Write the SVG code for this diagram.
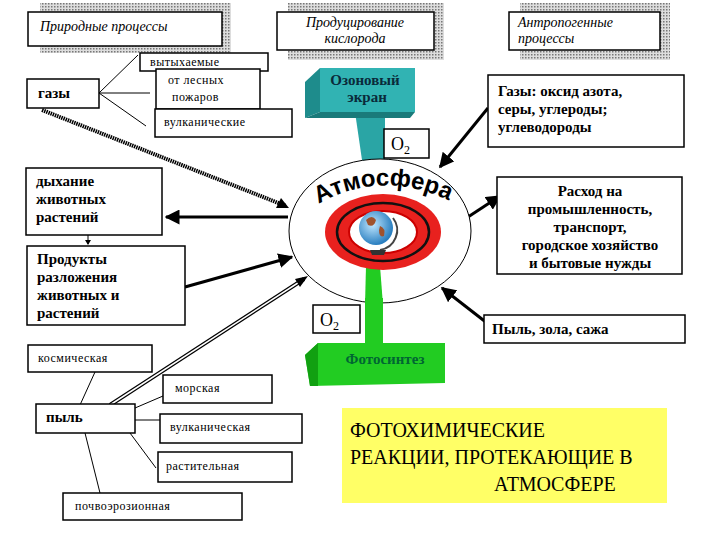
<svg xmlns="http://www.w3.org/2000/svg" width="720" height="540" viewBox="0 0 720 540">
<defs>
<pattern id="hatch" width="3" height="3" patternUnits="userSpaceOnUse"><rect width="3" height="3" fill="#ddd"/><rect width="1.5" height="1.5" fill="#777"/></pattern>
<marker id="ah" viewBox="0 0 10 10" refX="9" refY="5" markerWidth="5" markerHeight="5" orient="auto"><path d="M0,0L10,5L0,10z" fill="#000"/></marker>
<radialGradient id="glb" cx="0.4" cy="0.4" r="0.6"><stop offset="0" stop-color="#bfe6ff"/><stop offset="1" stop-color="#2a7fc0"/></radialGradient>
</defs>
<style>
text{font-family:"Liberation Serif","DejaVu Serif",serif}
.b{fill:#fff;stroke:#000;stroke-width:1.5}
.h{font-style:italic;font-size:14px}
.s{font-size:12px;letter-spacing:0.5px}
.m{font-weight:bold;font-size:15px}
.l{fill:none;stroke:#000;stroke-width:1}
.a{fill:none;stroke:#000;stroke-width:3;marker-end:url(#ah)}
</style>
<rect width="720" height="540" fill="#fff"/>
<g id="hdr1"><rect x="40" y="3" width="191" height="50" fill="url(#hatch)"/><rect class="b" x="28" y="12" width="194" height="34"/><text class="h" x="40" y="31">Природные процессы</text></g>
<g id="hdr2"><rect x="288" y="3" width="156" height="57" fill="url(#hatch)"/><rect class="b" x="277" y="12" width="157" height="38"/><text class="h" x="355" y="27" text-anchor="middle">Продуцирование</text><text class="h" x="355" y="43" text-anchor="middle">кислорода</text></g>
<g id="hdr3"><rect x="520" y="3" width="150" height="57" fill="url(#hatch)"/><rect class="b" x="509" y="12" width="151" height="38"/><text class="h" x="518" y="27">Антропогенные</text><text class="h" x="518" y="43">процессы</text></g>
<g id="connectors">
<line class="l" x1="99" y1="93" x2="138" y2="55"/><line class="l" x1="99" y1="93" x2="150" y2="93"/><line class="l" x1="99" y1="93" x2="146" y2="126"/>
<line class="l" x1="88" y1="235" x2="88" y2="244"/><path d="M85,240L91,240L88,245z"/>
<line x1="42" y1="110" x2="286" y2="206" stroke="#000" stroke-width="4" stroke-dasharray="1.5 0.8"/><path d="M289,208L276,208L281,198z"/>
<line class="a" x1="288" y1="217" x2="166" y2="217"/>
<line class="a" x1="185" y1="287" x2="292" y2="257"/>
<line x1="110" y1="405" x2="304" y2="279" stroke="#000" stroke-width="4"/><line x1="110" y1="405" x2="304" y2="279" stroke="#fff" stroke-width="1.5"/><path d="M308,276L295,279L300,287z"/>
<line class="a" x1="488" y1="108" x2="440" y2="167" stroke-width="2.5"/>
<line class="a" x1="468" y1="217" x2="500" y2="196" stroke-width="2"/>
<line class="a" x1="487" y1="323" x2="442" y2="288" stroke-width="2.5"/>
<line class="l" x1="80" y1="405" x2="95" y2="372"/><line class="l" x1="135" y1="408" x2="163" y2="396"/><line class="l" x1="135" y1="420" x2="160" y2="420"/><line class="l" x1="130" y1="433" x2="156" y2="468"/><line class="l" x1="85" y1="433" x2="100" y2="493"/>
</g>
<g id="gazy"><rect class="b" x="27" y="79" width="72" height="29"/><text class="m" x="38" y="98">газы</text></g>
<g id="vydyh"><rect class="b" x="140" y="53" width="128" height="18"/><text class="s" x="150" y="66">вытыхаемые</text></g>
<g id="lesn"><rect class="b" x="156" y="69" width="104" height="40"/><text class="s" x="168" y="84">от лесных</text><text class="s" x="172" y="101">пожаров</text></g>
<g id="vulk"><rect class="b" x="155" y="109" width="137" height="28"/><text class="s" x="164" y="126">вулканические</text></g>
<g id="ozon"><path d="M305,82L320,68L320,112L305,118z" fill="#1e8c8c"/><path d="M355,112L385,112L385,165L372,175L362,160z" fill="#2aa5a5"/><rect x="320" y="68" width="95" height="44" fill="#31b3b3"/><path d="M320,112L415,112L410,118L305,118z" fill="#1a7a7a"/><text class="m" x="365" y="85" text-anchor="middle" fill="#0a2a3a" font-size="13">Озоновый</text><text class="m" x="367" y="102" text-anchor="middle" fill="#0a2a3a" font-size="13">экран</text></g>
<g id="atm"><ellipse cx="380" cy="231" rx="91" ry="72" fill="#fff" stroke="#000"/>
<path d="M380,266L366,266L365,305L383,305z" fill="#22cc22"/>
<ellipse cx="383" cy="232" rx="58" ry="38" fill="#e8211e"/><ellipse cx="383" cy="232" rx="46" ry="29" fill="none" stroke="#111" stroke-width="2.5"/><ellipse cx="383" cy="232" rx="34" ry="21" fill="#fff" stroke="#c00" stroke-width="2"/>
<circle cx="376" cy="228" r="17" fill="url(#glb)"/><path d="M366,220q6,-6 10,0q-2,8 -8,5zM380,226q6,2 4,10q-5,2 -5,-6z" fill="#a0522d"/><path d="M393,218A20,20 0 0 1 380,250" fill="none" stroke="#444" stroke-width="2"/><path d="M370,250L386,250L384,255L372,255z" fill="#333"/>
<path id="arc" d="M312,208Q380,165 456,204" fill="none"/><text style="font-family:'Liberation Sans',sans-serif" font-weight="bold" font-size="24" fill="#000"><textPath href="#arc" startOffset="50%" text-anchor="middle">Атмосфера</textPath></text></g>
<g id="o2top"><rect class="b" x="384" y="129" width="45" height="29"/><text x="391" y="150" font-size="18">O<tspan font-size="12" dy="4">2</tspan></text></g>
<g id="gazr"><rect class="b" x="488" y="75" width="196" height="72"/><text class="m" x="498" y="96">Газы: оксид азота,</text><text class="m" x="498" y="114">серы, углероды;</text><text class="m" x="498" y="132">углеводороды</text></g>
<g id="dyh"><rect class="b" x="26" y="168" width="136" height="67"/><text class="m" x="36" y="186">дыхание</text><text class="m" x="36" y="204">животных</text><text class="m" x="36" y="222">растений</text></g>
<g id="prod"><rect class="b" x="27" y="246" width="158" height="79"/><text class="m" x="37" y="264">Продукты</text><text class="m" x="37" y="282">разложения</text><text class="m" x="37" y="300">животных и</text><text class="m" x="37" y="318">растений</text></g>
<g id="rash"><rect class="b" x="497" y="177" width="185" height="97"/><g class="m" text-anchor="middle"><text class="m" x="590" y="196">Расход на</text><text class="m" x="590" y="214">промышленность,</text><text class="m" x="590" y="232">транспорт,</text><text class="m" x="590" y="250">городское хозяйство</text><text class="m" x="590" y="268">и бытовые нужды</text></g></g>
<g id="foto"><path d="M365,298L383,298L383,345L365,345z" fill="#22cc22"/><path d="M305,355L318,343L445,343L445,383L310,386z" fill="#22cc22"/><path d="M305,355L318,343L318,386L310,386z" fill="#11a011"/><text class="m" x="385" y="364" text-anchor="middle" fill="#063" font-size="13">Фотосинтез</text></g>
<g id="o2bot"><rect class="b" x="313" y="305" width="47" height="28"/><text x="320" y="326" font-size="18">O<tspan font-size="12" dy="4">2</tspan></text></g>
<g id="pyl3"><rect class="b" x="484" y="315" width="201" height="28"/><text class="m" x="492" y="334">Пыль, зола, сажа</text></g>
<g id="kosm"><rect class="b" x="28" y="345" width="124" height="27"/><text class="s" x="38" y="362">космическая</text></g>
<g id="mor"><rect class="b" x="163" y="375" width="109" height="28"/><text class="s" x="175" y="392">морская</text></g>
<g id="pyl"><rect class="b" x="36" y="404" width="99" height="29"/><text class="m" x="46" y="422" font-size="13">пыль</text></g>
<g id="vulk2"><rect class="b" x="160" y="414" width="142" height="29"/><text class="s" x="170" y="431">вулканическая</text></g>
<g id="rast"><rect class="b" x="158" y="452" width="134" height="30"/><text class="s" x="166" y="470">растительная</text></g>
<g id="poch"><rect class="b" x="63" y="493" width="179" height="27"/><text class="s" x="75" y="510">почвоэрозионная</text></g>
<g id="title"><rect x="342" y="408" width="325" height="95" fill="#ffff66"/><g font-size="20"><text x="350" y="437">ФОТОХИМИЧЕСКИЕ</text><text x="350" y="464">РЕАКЦИИ, ПРОТЕКАЮЩИЕ В</text><text x="494" y="491">АТМОСФЕРЕ</text></g></g>
</svg>
